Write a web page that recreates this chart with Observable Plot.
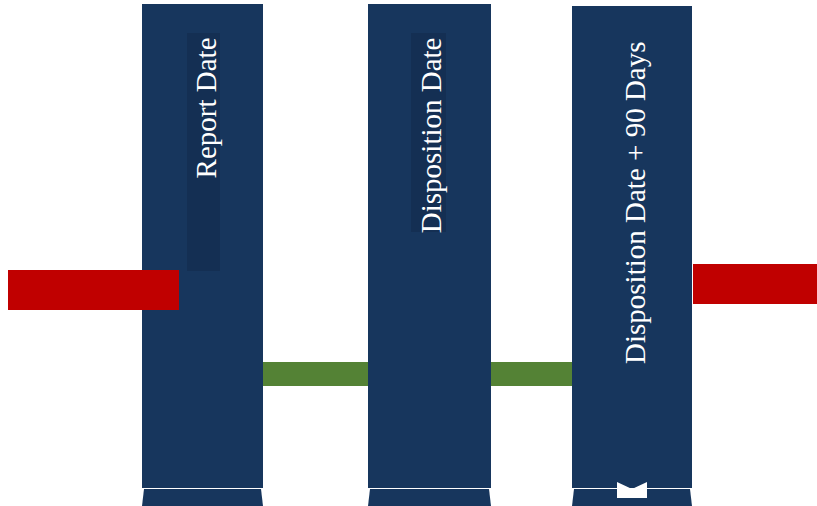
<!DOCTYPE html>
<html>
<head>
<meta charset="utf-8">
<script src="https://cdn.jsdelivr.net/npm/d3@7"></script>
<script src="https://cdn.jsdelivr.net/npm/@observablehq/plot@0.6"></script>
<style>
  html, body { margin: 0; padding: 0; background: #ffffff; }
  #chart svg { display: block; }
</style>
</head>
<body>
<div id="chart"></div>
<script>
// Stages (tall navy columns)
const stages = ["Report Date", "Disposition Date", "Disposition Date + 90 Days"];
const stageX1 = [142, 368, 572];
const stageX2 = [263, 491, 692];
const stageY1 = [4, 4, 6];
const stageY2 = [488, 488, 488];
// Feet under each column
const footY = [489, 506];
const footInset = [2, 0];
// Label shading behind the first two labels
const shadeX1 = [187, 411];
const shadeX2 = [220, 446];
const shadeY1 = [33, 33];
const shadeY2 = [271, 232];
// Label positions
const labelX = [206, 431, 635];
const labelTop = [37, 37, 41];
// Red out-of-window bars
const redX1 = [8, 693];
const redX2 = [179, 817];
const redY1 = [270, 264];
const redY2 = [310, 304];
// Green connecting bars
const greenX1 = [263, 491];
const greenX2 = [368, 572];
const greenY1 = [362, 362];
const greenY2 = [386, 386];
// Notch under the last column
const notchX = [617, 632, 647];
const notchTop = [482, 489, 482];
const notchBottom = [498, 498, 498];

const navy = "#17365d";
const shade = "#142f53";
const red = "#c00000";
const green = "#548235";

const columns = stages.map((s, i) => ({s, x1: stageX1[i], x2: stageX2[i], y1: stageY1[i], y2: stageY2[i]}));
const feet = stages.flatMap((s, i) => footY.map((y, j) => ({s, y, x1: stageX1[i] + footInset[j], x2: stageX2[i] - footInset[j]})));
const shades = shadeX1.map((x, i) => ({x1: x, x2: shadeX2[i], y1: shadeY1[i], y2: shadeY2[i]}));
const labels = stages.map((s, i) => ({s, x: labelX[i], y: labelTop[i]}));
const reds = redX1.map((x, i) => ({x1: x, x2: redX2[i], y1: redY1[i], y2: redY2[i]}));
const greens = greenX1.map((x, i) => ({x1: x, x2: greenX2[i], y1: greenY1[i], y2: greenY2[i]}));
const notch = notchX.map((x, i) => ({x, y1: notchTop[i], y2: notchBottom[i]}));

const chart = Plot.plot({
  width: 817,
  height: 506,
  margin: 0,
  x: {domain: [0, 817], range: [0, 817], axis: null},
  y: {domain: [0, 506], range: [0, 506], axis: null},
  style: {background: "#ffffff"},
  marks: [
    Plot.rect(greens, {x1: "x1", x2: "x2", y1: "y1", y2: "y2", fill: green}),
    Plot.rect(columns, {x1: "x1", x2: "x2", y1: "y1", y2: "y2", fill: navy}),
    Plot.areaX(feet, {y: "y", x1: "x1", x2: "x2", z: "s", fill: navy, curve: "linear"}),
    Plot.areaY(notch, {x: "x", y1: "y1", y2: "y2", fill: "#ffffff", curve: "linear"}),
    Plot.rect(shades, {x1: "x1", x2: "x2", y1: "y1", y2: "y2", fill: shade}),
    Plot.rect(reds, {x1: "x1", x2: "x2", y1: "y1", y2: "y2", fill: red}),
    Plot.text(labels, {
      x: "x", y: "y", text: "s", rotate: -90, textAnchor: "end", lineAnchor: "middle",
      fill: "#ffffff", fontSize: 29, fontFamily: "'Liberation Serif', 'Times New Roman', serif"
    })
  ]
});
document.getElementById("chart").appendChild(chart);
</script>
</body>
</html>
